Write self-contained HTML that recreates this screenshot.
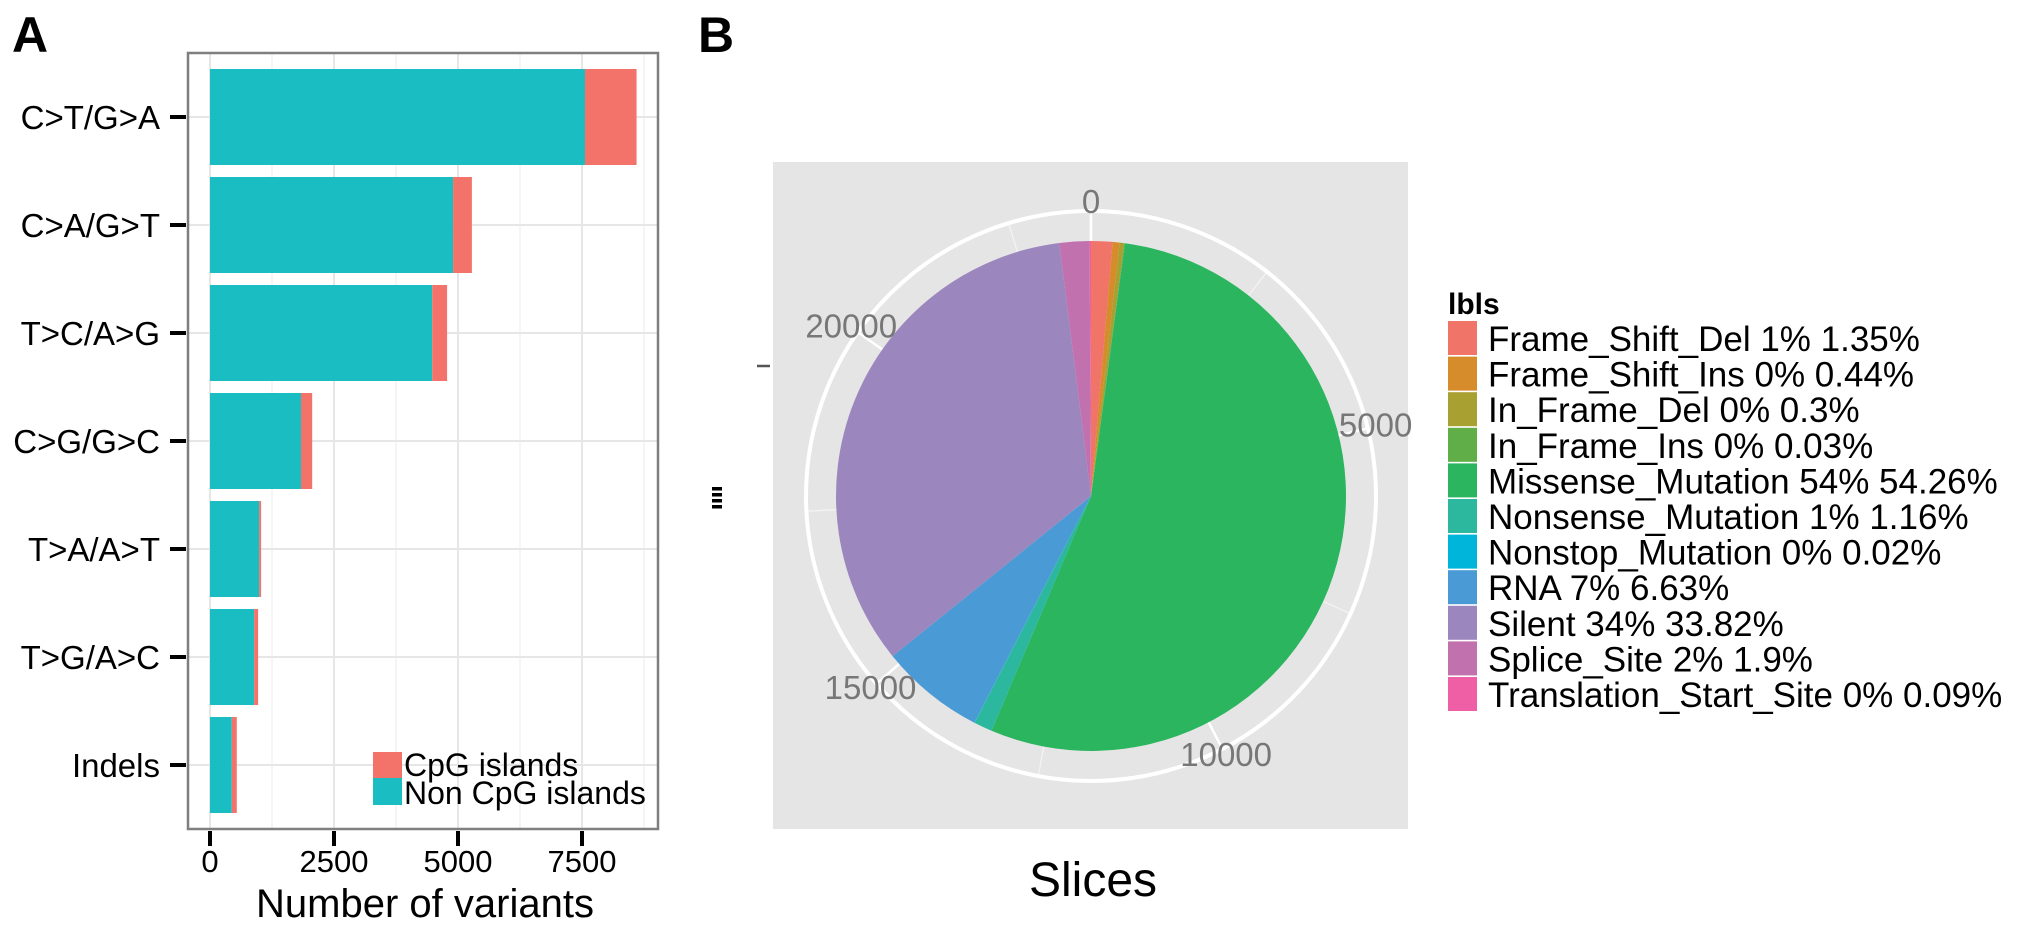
<!DOCTYPE html>
<html><head><meta charset="utf-8"><style>
html,body{margin:0;padding:0;background:#fff;}
svg{display:block;font-family:"Liberation Sans",Arial,sans-serif;}
</style></head><body>
<svg id="fig" width="2031" height="935" viewBox="0 0 2031 935" xmlns="http://www.w3.org/2000/svg">
<text x="12" y="52" font-size="50" font-weight="bold">A</text>
<text x="698" y="52" font-size="50" font-weight="bold">B</text>
<g id="barA"></g>
<g id="pieB"></g>
</svg>
<script>
// ---- Panel A data ----
const categories = ["C>T/G>A","C>A/G>T","T>C/A>G","C>G/G>C","T>A/A>T","T>G/A>C","Indels"];
const nonCpg = [7560, 4900, 4480, 1835, 990, 890, 440];
const cpg = [1040, 380, 300, 225, 40, 80, 100];
const xTicks = [0, 2500, 5000, 7500];
const xTickLabels = ["0","2500","5000","7500"];
// ---- Panel B data ----
const sliceLabels = ["Frame_Shift_Del 1% 1.35%","Frame_Shift_Ins 0% 0.44%","In_Frame_Del 0% 0.3%","In_Frame_Ins 0% 0.03%","Missense_Mutation 54% 54.26%","Nonsense_Mutation 1% 1.16%","Nonstop_Mutation 0% 0.02%","RNA 7% 6.63%","Silent 34% 33.82%","Splice_Site 2% 1.9%","Translation_Start_Site 0% 0.09%"];
const sliceCounts = [319, 104, 71, 7, 12805, 274, 5, 1565, 7982, 448, 21];
const sliceColors = ["#F07468","#D68C2A","#A8A030","#5FAE48","#2BB55E","#2BB89E","#00B5DA","#4A9BD5","#9C86BE","#C271AF","#EE5FA6"];
const thetaTicks = [0, 5000, 10000, 15000, 20000];

const NS="http://www.w3.org/2000/svg";
function mk(tag, attrs, parent){const e=document.createElementNS(NS,tag);for(const k in attrs)e.setAttribute(k,attrs[k]);parent.appendChild(e);return e;}

// ---- Panel A ----
const A=document.getElementById('barA');
const pL=188,pR=658,pT=53,pB=829,x0=210,pxPer=124/2500;
const xs=v=>x0+v*pxPer;
const ys=i=>117+i*108;
const halfH=48;
mk('rect',{x:pL,y:pT,width:pR-pL,height:pB-pT,fill:'#fff'},A);
for(let v=1250;xs(v)<pR;v+=2500){const g=mk('line',{x1:xs(v),x2:xs(v),y1:pT,y2:pB,stroke:'#f2f2f2','stroke-width':1.5},A);

}
xTicks.forEach(v=>{const g=mk('line',{x1:xs(v),x2:xs(v),y1:pT,y2:pB,stroke:'#e6e6e6','stroke-width':2},A);

});
categories.forEach((c,i)=>{
 const g=mk('line',{x1:pL,x2:pR,y1:ys(i),y2:ys(i),stroke:'#e6e6e6','stroke-width':2},A);
 
 
 const b1=mk('rect',{x:xs(0),y:ys(i)-halfH,width:xs(nonCpg[i])-xs(0),height:2*halfH,fill:'#19BDC2'},A);
 
 
 const b2=mk('rect',{x:xs(nonCpg[i]),y:ys(i)-halfH,width:xs(nonCpg[i]+cpg[i])-xs(nonCpg[i]),height:2*halfH,fill:'#F3736A'},A);
 
 
 const t=mk('line',{x1:170,x2:186,y1:ys(i),y2:ys(i),stroke:'#000','stroke-width':4},A);
 
 
 const l=mk('text',{x:160,y:ys(i)+12,'font-size':33,'text-anchor':'end',fill:'#000'},A);l.textContent=c;
 
 
});
const bd=mk('rect',{x:pL,y:pT,width:pR-pL,height:pB-pT,fill:'none',stroke:'#7f7f7f','stroke-width':2.5},A);


xTicks.forEach((v,i)=>{
 const t=mk('line',{x1:xs(v),x2:xs(v),y1:831,y2:846,stroke:'#000','stroke-width':4},A);
 
 
 const l=mk('text',{x:xs(v),y:872,'font-size':31,'text-anchor':'middle',fill:'#000'},A);l.textContent=xTickLabels[i];
 
 
});
const xt=mk('text',{x:425,y:917,'font-size':40,'text-anchor':'middle',fill:'#000'},A);xt.textContent='Number of variants';


// legend A
const lk1=mk('rect',{x:373,y:752,width:29,height:26,fill:'#F3736A'},A);


const lk2=mk('rect',{x:373,y:778,width:29,height:27,fill:'#19BDC2'},A);


const lt1=mk('text',{x:404,y:776,'font-size':32,fill:'#000'},A);lt1.textContent='CpG islands';


const lt2=mk('text',{x:404,y:804,'font-size':32,fill:'#000'},A);lt2.textContent='Non CpG islands';



// ---- Panel B ----
const B=document.getElementById('pieB');
const cx=1091,cy=496,r=255,R=285;
const total=sliceCounts.reduce((a,b)=>a+b,0);
const ang=v=>v/total*2*Math.PI;
const pt=(a,rad)=>[cx+rad*Math.sin(a),cy-rad*Math.cos(a)];
const bg=mk('rect',{x:773,y:162,width:635,height:667,fill:'#e5e5e5'},B);


for(let v=0;v<total;v+=2500){const p=pt(ang(v),R);const g=mk('line',{x1:cx,y1:cy,x2:p[0],y2:p[1],stroke:'#fff','stroke-width':v%5000===0?2.5:1.2,opacity:v%5000===0?1:0.6},B);

}
const oc=mk('circle',{cx:cx,cy:cy,r:R,fill:'none',stroke:'#fff','stroke-width':4},B);


let acc=0;
sliceCounts.forEach((v,i)=>{
 const a0=ang(acc),a1=ang(acc+v);acc+=v;
 const p0=pt(a0,r),p1=pt(a1,r);
 const large=(a1-a0)>Math.PI?1:0;
 const s=mk('path',{d:`M${cx},${cy}L${p0[0]},${p0[1]}A${r},${r} 0 ${large} 1 ${p1[0]},${p1[1]}Z`,fill:sliceColors[i]},B);
 
 
});
thetaTicks.forEach(v=>{
 const p=pt(ang(v),R+8);
 const l=mk('text',{x:p[0],y:p[1]+10,'font-size':33,'text-anchor':'middle',fill:'#777'},B);l.textContent=String(v);
 
 
});
const yt=mk('line',{x1:757,x2:770,y1:366,y2:366,stroke:'#555','stroke-width':2.5},B);


for(let k=0;k<4;k++){const d=mk('rect',{x:712,y:487+k*6,width:10,height:3.5,fill:'#000'},B);

}
const st=mk('text',{x:1093,y:896,'font-size':48,'text-anchor':'middle',fill:'#000'},B);st.textContent='Slices';


// legend B
const lg=mk('text',{x:1448,y:314,'font-size':30,'font-weight':'bold',fill:'#000'},B);lg.textContent='lbls';


sliceLabels.forEach((s,i)=>{
 const y=321+i*35.6;
 const k=mk('rect',{x:1448,y:y,width:29,height:34,fill:sliceColors[i]},B);
 
 
 const t=mk('text',{x:1488,y:y+30,'font-size':35,fill:'#000'},B);t.textContent=s;
 
 
});
</script>
</body></html>
